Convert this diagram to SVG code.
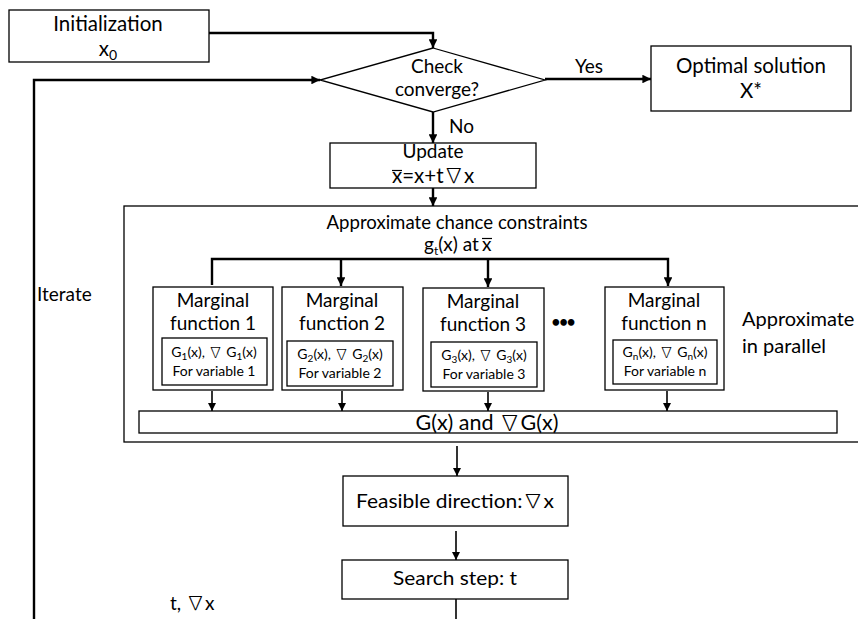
<svg xmlns="http://www.w3.org/2000/svg" width="858" height="619" viewBox="0 0 858 619">
<style>
  text { font-family: Lato, "Open Sans", "Liberation Sans", sans-serif; fill: #000; }
  .box { fill: #fff; stroke: #000; stroke-width: 1.3; }
  .big { fill: none; stroke: #000; stroke-width: 1.3; }
  .thick { fill: none; stroke: #000; stroke-width: 2.4; }
  .thin { fill: none; stroke: #000; stroke-width: 1.6; }
  .bar { stroke: #000; stroke-width: 1.2; }
  .t20 { font-size: 20.5px; }
  .t19 { font-size: 19px; }
  .t14 { font-size: 14px; }
  .nb { font-family: "Noto Sans CJK SC", "DejaVu Sans", sans-serif; font-weight: 300; }
</style>
<defs>
  <marker id="ah" viewBox="0 0 10 10" refX="10" refY="5" markerWidth="3.6" markerHeight="3.6" markerUnits="strokeWidth" orient="auto">
    <path d="M0,0 L10,5 L0,10 z" fill="#000"/>
  </marker>
  <marker id="ah2" viewBox="0 0 10 10" refX="10" refY="5" markerWidth="5" markerHeight="5" markerUnits="strokeWidth" orient="auto">
    <path d="M0,0 L10,5 L0,10 z" fill="#000"/>
  </marker>
</defs>

<g id="connectors">
  <path class="thick" d="M209,33 L433,33 L433,48" marker-end="url(#ah)"/>
  <path class="thick" d="M34,619 L34,80 L320,80" marker-end="url(#ah)"/>
  <path class="thick" d="M545,79 L651,79" marker-end="url(#ah)"/>
  <path class="thick" d="M433,112 L433,143" marker-end="url(#ah)"/>
  <path class="thick" d="M433,188 L433,206" marker-end="url(#ah)"/>
  <path class="thick" d="M212,285 L212,259 L668,259 L668,286" marker-end="url(#ah)"/>
  <path class="thick" d="M341,259 L341,286" marker-end="url(#ah)"/>
  <path class="thick" d="M488,259 L488,287" marker-end="url(#ah)"/>
  <path class="thin" d="M212,391 L212,411" marker-end="url(#ah2)"/>
  <path class="thin" d="M342,391 L342,411" marker-end="url(#ah2)"/>
  <path class="thin" d="M488,392 L488,411" marker-end="url(#ah2)"/>
  <path class="thin" d="M667,391 L667,411" marker-end="url(#ah2)"/>
  <path class="thin" d="M457,446 L457,476" marker-end="url(#ah2)"/>
  <path class="thin" d="M456,531 L456,560" marker-end="url(#ah2)"/>
  <path class="thin" d="M456,599 L456,619"/>
  <text class="t19" x="575" y="73">Yes</text>
  <text class="t19" x="449" y="133">No</text>
  <text class="t19" x="37" y="301">Iterate</text>
  <text class="t19" x="170" y="610">t, <tspan class="nb">∇</tspan>x</text>
</g>

<g id="init">
  <rect class="box" x="9" y="10" width="200" height="52"/>
  <text class="t20" x="108" y="31" text-anchor="middle">Initialization</text>
  <text class="t20" x="108" y="56" text-anchor="middle">x<tspan font-size="14" dy="4">0</tspan></text>
</g>

<g id="check">
  <polygon class="box" points="433,48 545,80 433,112 320,80"/>
  <text class="t19" x="437" y="73" text-anchor="middle">Check</text>
  <text class="t19" x="437" y="96" text-anchor="middle">converge?</text>
</g>

<g id="optimal">
  <rect class="box" x="651" y="46" width="200" height="65"/>
  <text class="t20" x="751" y="73" text-anchor="middle">Optimal solution</text>
  <text class="t20" x="751" y="98" text-anchor="middle">X*</text>
</g>

<g id="update">
  <rect class="box" x="330" y="143" width="206" height="45"/>
  <text class="t19" x="433" y="158" text-anchor="middle">Update</text>
  <text class="t20" x="392" y="183">x=x+t<tspan class="nb">∇</tspan>x</text>
  <line class="bar" x1="392" y1="170.5" x2="402" y2="170.5"/>
</g>

<g id="approx">
  <rect class="big" x="124" y="206" width="760" height="236"/>
  <text x="457" y="229" font-size="18.6" text-anchor="middle">Approximate chance constraints</text>
  <text x="424" y="251" font-size="19">g<tspan font-size="12" dy="4">t</tspan><tspan dy="-4">(x) at</tspan></text>
  <text x="482" y="251" font-size="19">x</text>
  <line class="bar" x1="482" y1="238.5" x2="492" y2="238.5"/>
  <text x="563" y="327" font-size="15" font-weight="bold" text-anchor="middle" letter-spacing="-1">•••</text>
  <text x="742" y="326" font-size="20">Approximate</text>
  <text x="742" y="353" font-size="20">in parallel</text>
</g>

<g id="mf1">
  <rect class="box" x="153" y="287" width="120" height="103"/>
  <text class="t19" x="213" y="307" text-anchor="middle">Marginal</text>
  <text class="t19" x="213" y="330" text-anchor="middle">function 1</text>
  <rect class="box" x="162" y="338" width="105" height="47"/>
  <text class="t14" x="214" y="357" text-anchor="middle">G<tspan font-size="10" dy="3">1</tspan><tspan dy="-3">(x), </tspan><tspan class="nb">∇</tspan> G<tspan font-size="10" dy="3">1</tspan><tspan dy="-3">(x)</tspan></text>
  <text class="t14" x="214" y="376" text-anchor="middle">For variable 1</text>
</g>

<g id="mf2">
  <rect class="box" x="282" y="287" width="121" height="103"/>
  <text class="t19" x="342" y="307" text-anchor="middle">Marginal</text>
  <text class="t19" x="342" y="330" text-anchor="middle">function 2</text>
  <rect class="box" x="287" y="341" width="106" height="45"/>
  <text class="t14" x="340" y="359" text-anchor="middle">G<tspan font-size="10" dy="3">2</tspan><tspan dy="-3">(x), </tspan><tspan class="nb">∇</tspan> G<tspan font-size="10" dy="3">2</tspan><tspan dy="-3">(x)</tspan></text>
  <text class="t14" x="340" y="378" text-anchor="middle">For variable 2</text>
</g>

<g id="mf3">
  <rect class="box" x="423" y="288" width="121" height="103"/>
  <text class="t19" x="483" y="308" text-anchor="middle">Marginal</text>
  <text class="t19" x="483" y="331" text-anchor="middle">function 3</text>
  <rect class="box" x="431" y="342" width="106" height="45"/>
  <text class="t14" x="484" y="360" text-anchor="middle">G<tspan font-size="10" dy="3">3</tspan><tspan dy="-3">(x), </tspan><tspan class="nb">∇</tspan> G<tspan font-size="10" dy="3">3</tspan><tspan dy="-3">(x)</tspan></text>
  <text class="t14" x="484" y="379" text-anchor="middle">For variable 3</text>
</g>

<g id="mfn">
  <rect class="box" x="605" y="287" width="119" height="103"/>
  <text class="t19" x="664" y="307" text-anchor="middle">Marginal</text>
  <text class="t19" x="664" y="330" text-anchor="middle">function n</text>
  <rect class="box" x="613" y="340" width="104" height="44"/>
  <text class="t14" x="665" y="357" text-anchor="middle">G<tspan font-size="10" dy="3">n</tspan><tspan dy="-3">(x), </tspan><tspan class="nb">∇</tspan> G<tspan font-size="10" dy="3">n</tspan><tspan dy="-3">(x)</tspan></text>
  <text class="t14" x="665" y="376" text-anchor="middle">For variable n</text>
</g>

<g id="gx">
  <rect class="box" x="139" y="411" width="698" height="22"/>
  <text x="487" y="430" font-size="21.5" text-anchor="middle">G(x) and <tspan class="nb">∇</tspan>G(x)</text>
</g>

<g id="feasible">
  <rect class="box" x="343" y="476" width="225" height="50"/>
  <text x="455" y="508" font-size="19" text-anchor="middle" textLength="198" lengthAdjust="spacingAndGlyphs">Feasible direction:<tspan class="nb">∇</tspan>x</text>
</g>

<g id="search">
  <rect class="box" x="342" y="560" width="226" height="39"/>
  <text x="455" y="585" font-size="19" text-anchor="middle" textLength="124" lengthAdjust="spacingAndGlyphs">Search step: t</text>
</g>
</svg>
